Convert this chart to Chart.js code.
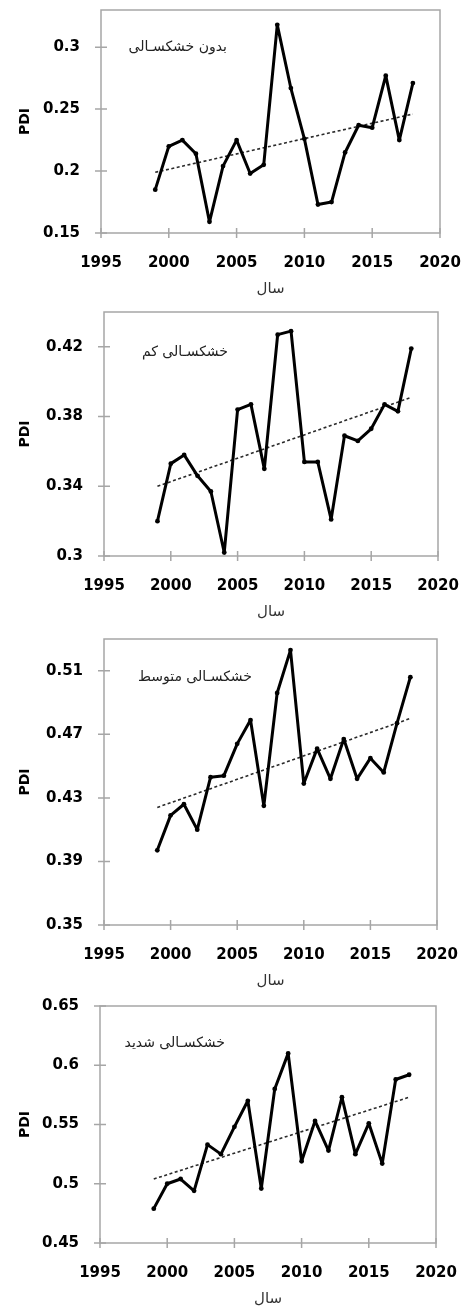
<!DOCTYPE html>
<html>
<head>
<meta charset="utf-8">
<script src="https://cdn.jsdelivr.net/npm/chart.js@4.4.0/dist/chart.umd.min.js"></script>
<style>
  body { margin: 0; background: #fff; width: 463px; height: 1308px; position: relative; overflow: hidden; }
  canvas { position: absolute; left: 0; }
</style>
</head>
<body>
<canvas id="c1" width="463" height="298" style="top:0px"></canvas>
<canvas id="c2" width="463" height="319" style="top:302px"></canvas>
<canvas id="c3" width="463" height="361" style="top:629px"></canvas>
<canvas id="c4" width="463" height="312" style="top:996px"></canvas>
<script>
// Data
const years = [1999, 2000, 2001, 2002, 2003, 2004, 2005, 2006, 2007, 2008,
               2009, 2010, 2011, 2012, 2013, 2014, 2015, 2016, 2017, 2018];

const pdiNone     = [0.185, 0.220, 0.225, 0.214, 0.159, 0.204, 0.225, 0.198, 0.205, 0.318,
                     0.267, 0.226, 0.173, 0.175, 0.215, 0.237, 0.235, 0.277, 0.225, 0.271];
const pdiLow      = [0.320, 0.353, 0.358, 0.346, 0.337, 0.302, 0.384, 0.387, 0.350, 0.427,
                     0.429, 0.354, 0.354, 0.321, 0.369, 0.366, 0.373, 0.387, 0.383, 0.419];
const pdiModerate = [0.397, 0.419, 0.426, 0.410, 0.443, 0.444, 0.464, 0.479, 0.425, 0.496,
                     0.523, 0.439, 0.461, 0.442, 0.467, 0.442, 0.455, 0.446, 0.477, 0.506];
const pdiSevere   = [0.479, 0.500, 0.504, 0.494, 0.533, 0.525, 0.548, 0.570, 0.496, 0.580,
                     0.610, 0.519, 0.553, 0.528, 0.573, 0.525, 0.551, 0.517, 0.588, 0.592];

// trend line end points (1999 and 2018)
const trendYears    = [1999, 2018];
const trendNone     = [0.199, 0.246];
const trendLow      = [0.340, 0.391];
const trendModerate = [0.424, 0.480];
const trendSevere   = [0.504, 0.573];

const xTicks = [1995, 2000, 2005, 2010, 2015, 2020];
const yTicksNone     = [0.15, 0.2, 0.25, 0.3];
const yTicksLow      = [0.3, 0.34, 0.38, 0.42];
const yTicksModerate = [0.35, 0.39, 0.43, 0.47, 0.51];
const yTicksSevere   = [0.45, 0.5, 0.55, 0.6, 0.65];

const labelNone     = 'بدون خشکسـالی';
const labelLow      = 'خشکسـالی کم';
const labelModerate = 'خشکسـالی متوسط';
const labelSevere   = 'خشکسـالی شدید';
const xTitle = 'سال';
const yTitle = 'PDI';

const axisGray = '#a6a6a6';

// frame + crossing tick marks + panel caption
const framePlugin = {
  id: 'frame',
  afterDraw(chart, args, opts) {
    const ctx = chart.ctx;
    const a = chart.chartArea;
    ctx.save();
    ctx.strokeStyle = axisGray;
    ctx.lineWidth = 1.5;
    ctx.strokeRect(a.left, a.top, a.right - a.left, a.bottom - a.top);
    const xs = chart.scales.x, ys = chart.scales.y;
    ctx.beginPath();
    xs.ticks.forEach(t => {
      const px = xs.getPixelForValue(t.value);
      ctx.moveTo(px, a.bottom - 5);
      ctx.lineTo(px, a.bottom + 5);
    });
    ys.ticks.forEach(t => {
      const py = ys.getPixelForValue(t.value);
      ctx.moveTo(a.left - 6, py);
      ctx.lineTo(a.left + 6, py);
    });
    ctx.stroke();

    ctx.fillStyle = '#222';
    ctx.font = '14px "DejaVu Sans"';
    ctx.direction = 'rtl';
    ctx.textAlign = 'right';
    ctx.textBaseline = 'middle';
    ctx.fillText(opts.caption, a.left + opts.dx, a.top + opts.dy);
    ctx.restore();
  }
};

// no extra label padding, so the plot box lands where the layout padding says
function noPad(s) {
  s.paddingLeft = 0;
  s.paddingRight = 0;
  s.paddingTop = 0;
  s.paddingBottom = 0;
}

function makeChart(id, values, trend, yTicks, yMin, yMax, caption, leftW, padRight, capDx, capDy) {
  const ctx = document.getElementById(id).getContext('2d');
  return new Chart(ctx, {
    type: 'line',
    data: {
      datasets: [
        {
          data: years.map((y, i) => ({ x: y, y: values[i] })),
          borderColor: '#000',
          backgroundColor: '#000',
          borderWidth: 3,
          borderJoinStyle: 'round',
          borderCapStyle: 'round',
          pointRadius: 2.4,
          pointBorderWidth: 0,
          pointHoverRadius: 2.4,
          tension: 0
        },
        {
          data: trendYears.map((y, i) => ({ x: y, y: trend[i] })),
          borderColor: '#2a2a2a',
          borderWidth: 1.6,
          borderDash: [3, 2.5],
          pointRadius: 0
        }
      ]
    },
    options: {
      responsive: false,
      animation: false,
      layout: { padding: { top: 10, right: padRight, left: 0, bottom: 0 } },
      plugins: {
        legend: { display: false },
        tooltip: { enabled: false },
        frame: { caption: caption, dx: capDx, dy: capDy }
      },
      scales: {
        x: {
          type: 'linear',
          min: 1995,
          max: 2020,
          grid: { display: false },
          border: { display: false },
          afterBuildTicks: s => { s.ticks = xTicks.map(v => ({ value: v })); },
          afterFit: s => { s.height = 65; noPad(s); },
          ticks: {
            color: '#000',
            font: { family: 'DejaVu Sans', size: 15, weight: 'bold' },
            padding: 13,
            maxRotation: 0,
            callback: v => String(v)
          },
          title: {
            display: true,
            text: xTitle,
            color: '#333',
            font: { family: 'DejaVu Sans', size: 15 },
            padding: { top: 1, bottom: 0 }
          }
        },
        y: {
          min: yMin,
          max: yMax,
          grid: { display: false },
          border: { display: false },
          afterBuildTicks: s => { s.ticks = yTicks.map(v => ({ value: v })); },
          afterFit: s => { s.width = leftW; noPad(s); },
          ticks: {
            color: '#000',
            font: { family: 'DejaVu Sans', size: 15, weight: 'bold' },
            padding: 13,
            callback: v => String(+v.toFixed(2))
          },
          title: {
            display: true,
            text: yTitle,
            color: '#000',
            font: { family: 'DejaVu Sans', size: 14, weight: 'bold' },
            padding: { top: 17, bottom: 0 }
          }
        }
      }
    },
    plugins: [framePlugin]
  });
}

makeChart('c1', pdiNone, trendNone, yTicksNone, 0.15, 0.33, labelNone, 101, 23, 126, 37);
makeChart('c2', pdiLow, trendLow, yTicksLow, 0.3, 0.44, labelLow, 104, 25, 124, 40);
makeChart('c3', pdiModerate, trendModerate, yTicksModerate, 0.35, 0.53, labelModerate, 104, 26, 148, 38);
makeChart('c4', pdiSevere, trendSevere, yTicksSevere, 0.45, 0.65, labelSevere, 100, 27, 125, 37);
</script>
</body>
</html>
